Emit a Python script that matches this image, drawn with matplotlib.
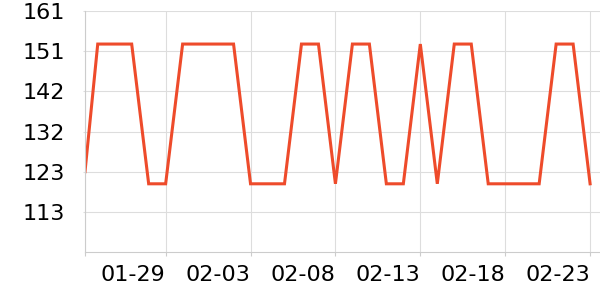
import pandas as pd
import matplotlib
matplotlib.use("Agg")
import matplotlib.pyplot as plt

# ===== DATA =====
dates = ["2024-01-24 06:00", "2024-01-25", "2024-01-26", "2024-01-27", "2024-01-28",
         "2024-01-29", "2024-01-30", "2024-01-31", "2024-02-01", "2024-02-02",
         "2024-02-03", "2024-02-04", "2024-02-05", "2024-02-06", "2024-02-07",
         "2024-02-08", "2024-02-09", "2024-02-10", "2024-02-11", "2024-02-12",
         "2024-02-13", "2024-02-14", "2024-02-15", "2024-02-16", "2024-02-17",
         "2024-02-18", "2024-02-19", "2024-02-20", "2024-02-21", "2024-02-22",
         "2024-02-23"]
values = [122.6, 153.1, 153.1, 153.1, 119.7,
          119.7, 153.1, 153.1, 153.1, 153.1,
          119.7, 119.7, 119.7, 153.1, 153.1,
          119.7, 153.1, 153.1, 119.7, 119.7,
          153.1, 119.7, 153.1, 153.1, 119.7,
          119.7, 119.7, 119.7, 153.1, 153.1,
          119.7]

y_ticks = [161, 151.4, 141.8, 132.2, 122.6, 113]
y_labels = ["161", "151", "142", "132", "123", "113"]
x_ticks = ["2024-01-29", "2024-02-03", "2024-02-08", "2024-02-13", "2024-02-18", "2024-02-23"]
x_labels = ["01-29", "02-03", "02-08", "02-13", "02-18", "02-23"]

x = pd.to_datetime(dates, format="mixed")

# ===== PLOT =====
fig = plt.figure(figsize=(6, 3), dpi=100)
ax = fig.add_axes([85 / 600, 1 - 252 / 300, 515 / 600, 241 / 300])

ax.plot(x, values, color="#EE4B2B", linewidth=2.2, solid_joinstyle="miter")

ax.set_xlim(x[0], pd.Timestamp("2024-02-23 14:00"))
ax.set_ylim(103.4, 161)

ax.set_yticks(y_ticks)
ax.set_yticklabels(y_labels)
xt = [x[0]] + list(pd.to_datetime(x_ticks))
ax.set_xticks(xt)
ax.set_xticklabels([""] + x_labels, ha="right")

ax.grid(True, color="#DDDDDD", linewidth=0.8)
ax.set_axisbelow(True)
for s in ["top", "right"]:
    ax.spines[s].set_visible(False)
for s in ["left", "bottom"]:
    ax.spines[s].set_color("#CCCCCC")
    ax.spines[s].set_linewidth(0.8)

ax.tick_params(axis="y", length=1.5, color="#DDDDDD", labelsize=16, pad=13)
ax.tick_params(axis="x", length=3, color="#CCCCCC", labelsize=16, pad=6.5)

fig.savefig("out.png", dpi=100)
